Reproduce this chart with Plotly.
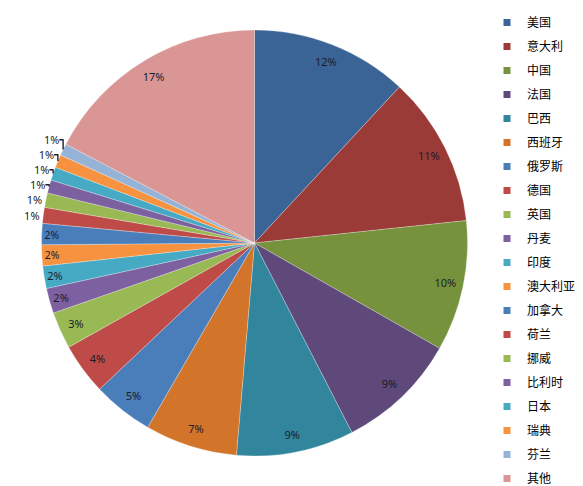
import plotly.graph_objects as go

countries = ["美国", "意大利", "中国", "法国", "巴西", "西班牙", "俄罗斯", "德国", "英国", "丹麦",
             "印度", "澳大利亚", "加拿大", "荷兰", "挪威", "比利时", "日本", "瑞典", "芬兰", "其他"]
shares = [11.9, 11.4, 9.9, 9.2, 8.9, 7.0, 4.6, 3.9, 2.8, 1.9,
          1.7, 1.6, 1.6, 1.2, 1.1, 1.0, 1.0, 1.0, 0.9, 17.3]
colors = ["#3A6396", "#9A3B38", "#76923C", "#5F497A", "#31859C", "#D2742A", "#4A7EBB", "#BE4B48",
          "#98B954", "#7D60A0", "#46AAC5", "#F69240", "#4A7EBB", "#BE4B48", "#98B954", "#7D60A0",
          "#46AAC5", "#F69240", "#95B3D7", "#D99694"]

W, H = 583, 486
text_pos = ["inside" if v >= 1.45 else "outside" for v in shares]
dom = dict(x=[33.5 / W, 459.5 / W], y=[(H - 448) / H, (H - 22) / H])

fig = go.Figure()
# coloured slices
fig.add_trace(go.Pie(
    labels=countries, values=shares, sort=False, direction="clockwise", rotation=0,
    marker=dict(colors=colors, line=dict(color="rgba(255,255,255,0.45)", width=0.6)),
    textinfo="none", showlegend=False, domain=dom, hoverinfo="label+percent",
))
# percentage labels placed in the outer ring of the same slices
fig.add_trace(go.Pie(
    labels=countries, values=shares, sort=False, direction="clockwise", rotation=0,
    hole=0.83,
    marker=dict(colors=["rgba(0,0,0,0)"] * len(shares), line=dict(width=0)),
    texttemplate="%{percent:.0%}", textposition=text_pos,
    insidetextorientation="horizontal",
    textfont=dict(family="Noto Sans", size=11, color="#1c1c28"),
    outsidetextfont=dict(family="Noto Sans", size=11, color="#1c1c28"),
    showlegend=False, domain=dom, hoverinfo="skip",
))

# legend entries (trailing no-break spaces only widen the legend box so no name is clipped)
for name, col in zip(countries, colors):
    fig.add_trace(go.Scatter(
        x=[None], y=[None], mode="markers", name=name + "\u00a0" * 4, legendgroup=name,
        marker=dict(symbol="square", size=7, color=col),
        showlegend=True,
    ))

fig.update_layout(
    width=W, height=H,
    margin=dict(l=0, r=0, t=0, b=0),
    paper_bgcolor="white", plot_bgcolor="white",
    xaxis=dict(visible=False), yaxis=dict(visible=False),
    legend=dict(x=1, xanchor="right", y=1, yanchor="top",
                maxheight=800,
                font=dict(family="Noto Sans CJK SC", size=12, color="#000000"),
                tracegroupgap=5, bgcolor="rgba(0,0,0,0)"),
    font=dict(family="Noto Sans CJK SC"),
)

fig.write_html("out.html")
